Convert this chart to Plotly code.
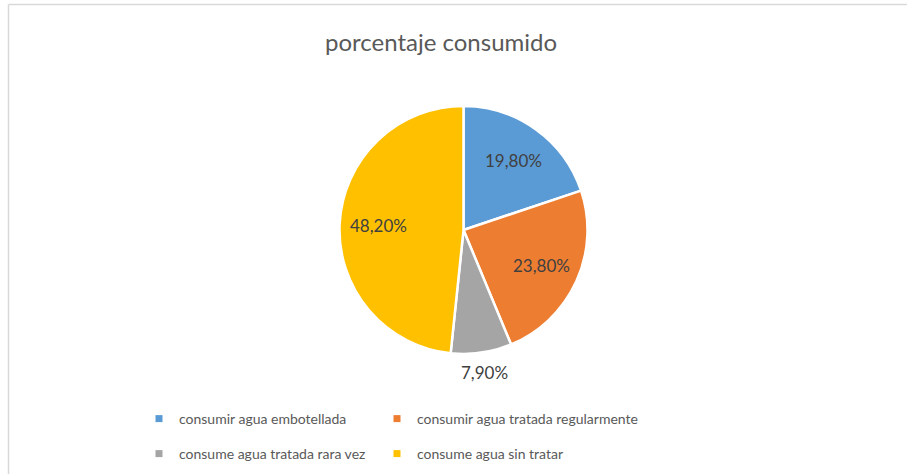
import math
import plotly.graph_objects as go

categories = ["consumir agua embotellada", "consumir agua tratada regularmente",
              "consume agua tratada rara vez", "consume agua sin tratar"]
values = [19.8, 23.8, 7.9, 48.2]
colors = ["#5B9BD5", "#ED7D31", "#A5A5A5", "#FFC000"]
label_inside = [True, True, False, True]
title_text = "porcentaje consumido"

FONT = "Lato"
W, H = 907, 474
L, R, T, B = 180, 160, 106, 120
pw, ph = W - L - R, H - T - B

def px_x(p):
    return (p - L) / pw

def px_y(p):
    return (H - B - p) / ph

fig = go.Figure()
fig.add_trace(go.Pie(
    labels=categories, values=values, sort=False, direction="clockwise", rotation=0,
    marker=dict(colors=colors, line=dict(color="white", width=2.5)),
    textinfo="none", showlegend=False, hoverinfo="label+percent",
    domain=dict(x=[0, 1], y=[0, 1]),
))

# data labels placed along each slice's mid-angle (derived from values)
cx, cy, rad = L + pw / 2, T + ph / 2, min(pw, ph) / 2
total = sum(values)
annotations = []
cum = 0.0
for v, inside in zip(values, label_inside):
    mid = (cum + v / 2) / total * 2 * math.pi
    cum += v
    dist = rad * 0.69 if inside else rad + 20
    ax = cx + dist * math.sin(mid)
    ay = cy - dist * math.cos(mid)
    annotations.append(dict(
        x=px_x(ax), y=px_y(ay), xref="paper", yref="paper",
        text=f"{v:.2f}%".replace(".", ","), showarrow=False,
        xanchor="center", yanchor="middle",
        font=dict(family=FONT, size=17, color="#404040"),
    ))

legend_names = ["legend", "legend2", "legend3", "legend4"]
for c, col, lg in zip(categories, colors, legend_names):
    fig.add_trace(go.Scatter(
        x=[None], y=[None], mode="markers", name=c,
        marker=dict(symbol="square", size=7, color=col),
        legend=lg,
    ))

leg_common = dict(orientation="h", xanchor="left", yanchor="middle",
                  font=dict(family=FONT, size=14, color="#595959"),
                  bgcolor="rgba(0,0,0,0)")

fig.update_layout(
    width=W, height=H,
    margin=dict(l=L, r=R, t=T, b=B, autoexpand=False),
    paper_bgcolor="white", plot_bgcolor="white",
    title=dict(text=title_text, font=dict(family=FONT, size=24, color="#595959"),
               xref="container", yref="container", x=441 / W, y=1 - 43 / H,
               xanchor="center", yanchor="middle"),
    xaxis=dict(visible=False), yaxis=dict(visible=False),
    legend=dict(x=px_x(139), y=px_y(419), **leg_common),
    legend2=dict(x=px_x(377), y=px_y(419), **leg_common),
    legend3=dict(x=px_x(139), y=px_y(454), **leg_common),
    legend4=dict(x=px_x(377), y=px_y(454), **leg_common),
    annotations=annotations,
    shapes=[
        dict(type="line", xref="paper", yref="paper", x0=px_x(8.5), x1=px_x(910),
             y0=px_y(4.5), y1=px_y(4.5), line=dict(color="#D9D9D9", width=1.5)),
        dict(type="line", xref="paper", yref="paper", x0=px_x(8.5), x1=px_x(8.5),
             y0=px_y(4.5), y1=px_y(480), line=dict(color="#D9D9D9", width=1.5)),
    ],
)

fig.write_html("out.html", config={"displayModeBar": False},
               post_script="document.body.style.margin='0';")
